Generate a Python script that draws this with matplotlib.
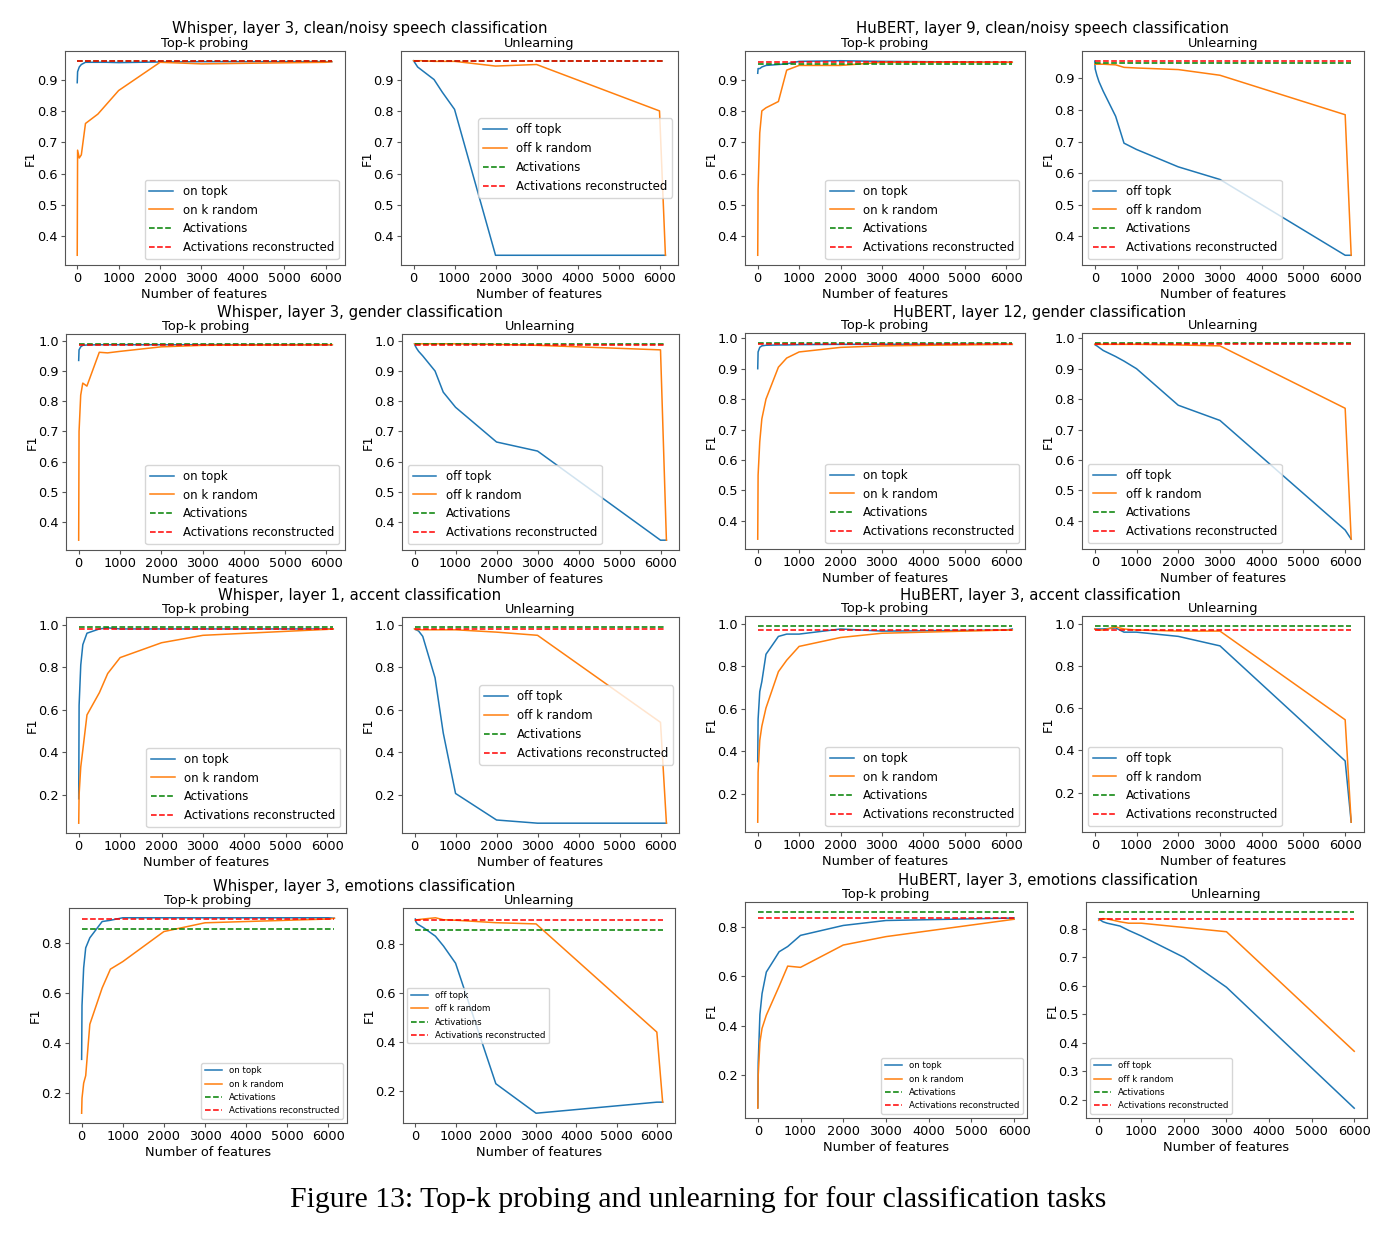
import matplotlib
matplotlib.use("Agg")
import matplotlib.pyplot as plt

# numero de features (k) usado em cada ponto
k_feat = [1, 10, 50, 100, 200, 500, 700, 1000, 2000, 3000, 6000, 6144]
k_feat_hub_emo = [1, 10, 50, 100, 200, 500, 700, 1000, 2000, 3000, 6000]

# Whisper, layer 3, clean/noisy
wh_noise_on_topk = [0.89, 0.925, 0.94, 0.948, 0.955, 0.955, 0.955, 0.954, 0.956, 0.957, 0.957, 0.957]
wh_noise_on_rand = [0.34, 0.675, 0.65, 0.66, 0.76, 0.79, 0.82, 0.865, 0.955, 0.95, 0.955, 0.957]
wh_noise_off_topk = [0.96, 0.958, 0.95, 0.94, 0.93, 0.90, 0.86, 0.805, 0.34, 0.34, 0.34, 0.34]
wh_noise_off_rand = [0.96, 0.96, 0.96, 0.96, 0.96, 0.958, 0.958, 0.958, 0.943, 0.948, 0.80, 0.34]
wh_noise_act, wh_noise_rec = 0.960, 0.958

# HuBERT, layer 9, clean/noisy
hub_noise_on_topk = [0.92, 0.935, 0.935, 0.94, 0.945, 0.948, 0.95, 0.958, 0.96, 0.958, 0.955, 0.955]
hub_noise_on_rand = [0.34, 0.55, 0.73, 0.80, 0.81, 0.83, 0.93, 0.945, 0.945, 0.955, 0.955, 0.955]
hub_noise_off_topk = [0.955, 0.93, 0.91, 0.89, 0.86, 0.78, 0.695, 0.675, 0.62, 0.58, 0.34, 0.34]
hub_noise_off_rand = [0.945, 0.945, 0.945, 0.945, 0.945, 0.943, 0.935, 0.933, 0.928, 0.91, 0.785, 0.34]
hub_noise_act, hub_noise_rec = 0.948, 0.956

# Whisper, layer 3, gender
wh_gender_on_topk = [0.935, 0.97, 0.98, 0.985, 0.986, 0.987, 0.987, 0.987, 0.987, 0.987, 0.987, 0.987]
wh_gender_on_rand = [0.34, 0.70, 0.82, 0.86, 0.85, 0.962, 0.96, 0.965, 0.98, 0.985, 0.987, 0.987]
wh_gender_off_topk = [0.99, 0.985, 0.975, 0.965, 0.95, 0.90, 0.83, 0.78, 0.665, 0.635, 0.34, 0.34]
wh_gender_off_rand = [0.99, 0.99, 0.99, 0.99, 0.99, 0.99, 0.99, 0.99, 0.988, 0.985, 0.97, 0.34]
wh_gender_act, wh_gender_rec = 0.990, 0.987

# HuBERT, layer 12, gender
hub_gender_on_topk = [0.90, 0.955, 0.97, 0.975, 0.977, 0.978, 0.978, 0.979, 0.98, 0.98, 0.98, 0.98]
hub_gender_on_rand = [0.34, 0.55, 0.66, 0.735, 0.80, 0.905, 0.935, 0.955, 0.97, 0.975, 0.98, 0.98]
hub_gender_off_topk = [0.98, 0.978, 0.975, 0.97, 0.96, 0.94, 0.925, 0.90, 0.78, 0.73, 0.37, 0.34]
hub_gender_off_rand = [0.98, 0.98, 0.98, 0.98, 0.98, 0.98, 0.98, 0.98, 0.978, 0.975, 0.77, 0.34]
hub_gender_act, hub_gender_rec = 0.985, 0.980

# Whisper, layer 1, accent
wh_accent_on_topk = [0.18, 0.62, 0.81, 0.906, 0.96, 0.98, 0.985, 0.98, 0.98, 0.98, 0.98, 0.98]
wh_accent_on_rand = [0.065, 0.20, 0.33, 0.41, 0.575, 0.68, 0.77, 0.845, 0.915, 0.95, 0.978, 0.98]
wh_accent_off_topk = [0.98, 0.978, 0.975, 0.97, 0.945, 0.75, 0.49, 0.205, 0.08, 0.065, 0.065, 0.065]
wh_accent_off_rand = [0.98, 0.978, 0.977, 0.977, 0.976, 0.976, 0.976, 0.976, 0.965, 0.95, 0.54, 0.065]
wh_accent_act, wh_accent_rec = 0.990, 0.980

# HuBERT, layer 3, accent
hub_accent_on_topk = [0.35, 0.55, 0.68, 0.727, 0.856, 0.94, 0.951, 0.951, 0.975, 0.965, 0.97, 0.975]
hub_accent_on_rand = [0.065, 0.30, 0.45, 0.517, 0.603, 0.774, 0.828, 0.893, 0.935, 0.955, 0.97, 0.97]
hub_accent_off_topk = [0.975, 0.975, 0.975, 0.975, 0.975, 0.98, 0.96, 0.96, 0.94, 0.895, 0.35, 0.06]
hub_accent_off_rand = [0.975, 0.973, 0.972, 0.97, 0.97, 0.985, 0.975, 0.97, 0.965, 0.965, 0.545, 0.06]
hub_accent_act, hub_accent_rec = 0.990, 0.970

# Whisper, layer 3, emotions
wh_emo_on_topk = [0.335, 0.55, 0.70, 0.78, 0.82, 0.885, 0.89, 0.90, 0.90, 0.90, 0.90, 0.898]
wh_emo_on_rand = [0.12, 0.18, 0.24, 0.27, 0.475, 0.62, 0.695, 0.725, 0.845, 0.88, 0.895, 0.898]
wh_emo_off_topk = [0.90, 0.89, 0.88, 0.875, 0.865, 0.83, 0.79, 0.72, 0.23, 0.11, 0.155, 0.155]
wh_emo_off_rand = [0.895, 0.895, 0.897, 0.898, 0.90, 0.905, 0.897, 0.895, 0.885, 0.88, 0.44, 0.155]
wh_emo_act, wh_emo_rec = 0.857, 0.897

# HuBERT, layer 3, emotions
hub_emo_on_topk = [0.07, 0.25, 0.446, 0.53, 0.617, 0.699, 0.72, 0.765, 0.805, 0.825, 0.835]
hub_emo_on_rand = [0.068, 0.20, 0.334, 0.39, 0.443, 0.56, 0.641, 0.636, 0.726, 0.76, 0.83]
hub_emo_off_topk = [0.835, 0.833, 0.83, 0.825, 0.82, 0.81, 0.795, 0.775, 0.70, 0.595, 0.17]
hub_emo_off_rand = [0.83, 0.832, 0.835, 0.836, 0.835, 0.825, 0.82, 0.82, 0.805, 0.79, 0.37]
hub_emo_act, hub_emo_rec = 0.860, 0.835

W, H = 1388, 1234
FS = 9.3
LEG_FS = 8.5
fig = plt.figure(figsize=(W / 100, H / 100), dpi=100)


def eixo(x0, y0, w, h):
    # coordenadas em pixels (topo-esquerda)
    return fig.add_axes([x0 / W, 1 - (y0 + h) / H, w / W, h / H])


def painel(ax, k, topk, rand, act, rec, modo, titulo, loc, lfs):
    pre = "on" if modo == "probe" else "off"
    ax.plot(k, topk, color="tab:blue", lw=1.1, label=f"{pre} topk")
    ax.plot(k, rand, color="tab:orange", lw=1.1, label=f"{pre} k random")
    ax.plot(k, [act] * len(k), "g--", lw=1.1, label="Activations")
    ax.plot(k, [rec] * len(k), "r--", lw=1.1, label="Activations reconstructed")
    ax.set_title(titulo, fontsize=FS, pad=3)
    ax.set_xlabel("Number of features", fontsize=FS, labelpad=2)
    ax.set_ylabel("F1", fontsize=FS, labelpad=0)
    ax.tick_params(labelsize=FS, length=3, pad=2, color="#555555")
    for s in ax.spines.values():
        s.set_color("#555555")
    ax.legend(loc=loc, fontsize=lfs, framealpha=0.8)


def bloco(nome, cx, ty, axes_pos, dados, locs, lfs=LEG_FS):
    fig.text(cx / W, 1 - ty / H, nome, ha="center", va="center", fontsize=10.7)
    (k, on_t, on_r, off_t, off_r, act, rec) = dados
    a1 = eixo(*axes_pos[0])
    a2 = eixo(*axes_pos[1])
    painel(a1, k, on_t, on_r, act, rec, "probe", "Top-k probing", locs[0], lfs)
    painel(a2, k, off_t, off_r, act, rec, "unlearn", "Unlearning", locs[1], lfs)


bloco("Whisper, layer 3, clean/noisy speech classification", 360, 29,
      [(64.5, 51, 280, 214), (401, 51, 277, 214)],
      (k_feat, wh_noise_on_topk, wh_noise_on_rand, wh_noise_off_topk,
       wh_noise_off_rand, wh_noise_act, wh_noise_rec),
      ["lower right", "center right"])
bloco("HuBERT, layer 9, clean/noisy speech classification", 1043, 28,
      [(745, 51, 280, 214), (1082, 51, 282, 214)],
      (k_feat, hub_noise_on_topk, hub_noise_on_rand, hub_noise_off_topk,
       hub_noise_off_rand, hub_noise_act, hub_noise_rec),
      ["lower right", "lower left"])

bloco("Whisper, layer 3, gender classification", 360, 313,
      [(66, 334, 279, 216), (402, 334, 277, 216)],
      (k_feat, wh_gender_on_topk, wh_gender_on_rand, wh_gender_off_topk,
       wh_gender_off_rand, wh_gender_act, wh_gender_rec),
      ["lower right", "lower left"])
bloco("HuBERT, layer 12, gender classification", 1040, 312,
      [(745, 333, 280, 216), (1082, 333, 282, 216)],
      (k_feat, hub_gender_on_topk, hub_gender_on_rand, hub_gender_off_topk,
       hub_gender_off_rand, hub_gender_act, hub_gender_rec),
      ["lower right", "lower left"])

bloco("Whisper, layer 1, accent classification", 360, 596,
      [(66, 617, 280, 216), (402, 617, 277, 216)],
      (k_feat, wh_accent_on_topk, wh_accent_on_rand, wh_accent_off_topk,
       wh_accent_off_rand, wh_accent_act, wh_accent_rec),
      ["lower right", "center right"])
bloco("HuBERT, layer 3, accent classification", 1040, 596,
      [(745, 616, 280, 216), (1082, 616, 282, 216)],
      (k_feat, hub_accent_on_topk, hub_accent_on_rand, hub_accent_off_topk,
       hub_accent_off_rand, hub_accent_act, hub_accent_rec),
      ["lower right", "lower left"])

bloco("Whisper, layer 3, emotions classification", 364, 887,
      [(69, 908, 278, 215), (403, 908, 272, 215)],
      (k_feat, wh_emo_on_topk, wh_emo_on_rand, wh_emo_off_topk,
       wh_emo_off_rand, wh_emo_act, wh_emo_rec),
      ["lower right", "center left"], lfs=6.2)
bloco("HuBERT, layer 3, emotions classification", 1048, 880,
      [(745, 902, 282, 216), (1086, 902, 281, 216)],
      (k_feat_hub_emo, hub_emo_on_topk, hub_emo_on_rand, hub_emo_off_topk,
       hub_emo_off_rand, hub_emo_act, hub_emo_rec),
      ["lower right", "lower left"], lfs=6.2)

fig.text(698 / W, 1 - 1200 / H,
         "Figure 13: Top-k probing and unlearning for four classification tasks",
         ha="center", va="center", fontsize=21.4, family="Liberation Serif")

fig.savefig("out.png", dpi=100, facecolor="white")
